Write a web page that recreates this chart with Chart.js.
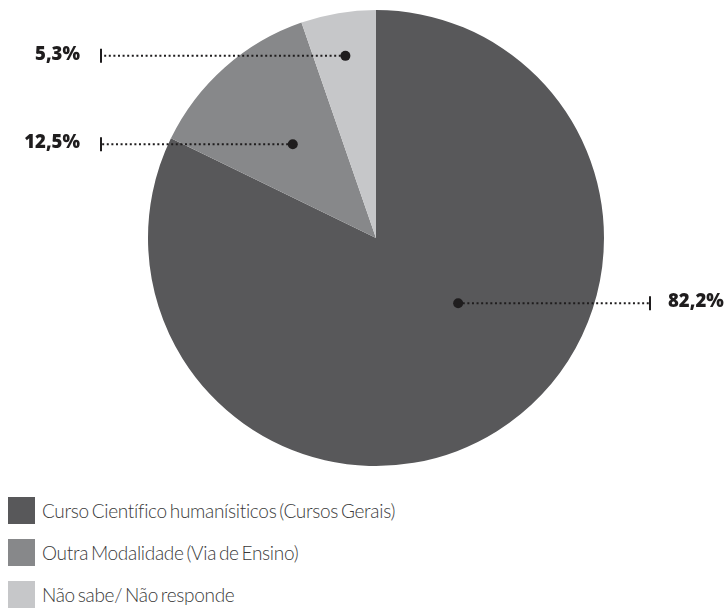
<!DOCTYPE html>
<html>
<head>
<meta charset="utf-8">
<script src="https://cdn.jsdelivr.net/npm/chart.js@4"></script>
<style>
  body { margin: 0; background: #fff; width: 728px; height: 608px; overflow: hidden; }
  #wrap { position: relative; width: 728px; height: 480px; }
  #legend { position: absolute; left: 8px; top: 497px; font-family: Lato, sans-serif; font-weight: 300; font-size: 19px; letter-spacing: -0.3px; word-spacing: -2px; color: #3a3a3a; }
  .item { display: flex; align-items: center; height: 27px; margin-bottom: 15px; }
  .box { width: 27px; height: 27px; margin-right: 7px; }
</style>
</head>
<body>
<div id="wrap"><canvas id="chart"></canvas></div>
<div id="legend"></div>
<script>
// Dados
const categorias = ['Curso Científico humanísiticos (Cursos Gerais)', 'Outra Modalidade (Via de Ensino)', 'Não sabe/ Não responde'];
const valores = [82.2, 12.5, 5.3];
const rotulos = ['82,2%', '12,5%', '5,3%'];
const cores = ['#58585a', '#87888a', '#c6c7c9'];

// posição do ponto dentro de cada fatia (fração do ângulo, fração do raio) e lado do rótulo
const ancoras = [
    { ang: 0.434, rad: 0.46, lado: 'right' },
    { ang: 0.5, rad: 0.55, lado: 'left' },
    { ang: 0.5, rad: 0.81, lado: 'left' }
];

// Plugin para desenhar os rótulos com linha pontilhada
const rotulosPlugin = {
    id: 'rotulos',
    afterDraw(chart) {
        const ctx = chart.ctx;
        const arcs = chart.getDatasetMeta(0).data;
        arcs.forEach((arc, i) => {
            const { x, y, startAngle, endAngle, outerRadius } = arc.getProps(['x', 'y', 'startAngle', 'endAngle', 'outerRadius'], true);
            const a = startAngle + (endAngle - startAngle) * ancoras[i].ang;
            const r = outerRadius * ancoras[i].rad;
            const px = x + Math.cos(a) * r;
            const py = y + Math.sin(a) * r;
            const direita = ancoras[i].lado === 'right';
            const fimX = direita ? x + 274 : x - 275;

            ctx.save();
            ctx.strokeStyle = '#1f1d1e';
            ctx.fillStyle = '#1f1d1e';
            // linha pontilhada
            ctx.lineWidth = 2;
            ctx.setLineDash([2, 2.6]);
            ctx.beginPath();
            ctx.moveTo(px, py);
            ctx.lineTo(fimX, py);
            ctx.stroke();
            ctx.setLineDash([]);
            // marca vertical
            ctx.beginPath();
            ctx.moveTo(fimX, py - 7);
            ctx.lineTo(fimX, py + 7);
            ctx.stroke();
            // ponto
            ctx.beginPath();
            ctx.arc(px, py, 5, 0, Math.PI * 2);
            ctx.fill();
            // texto
            ctx.font = '800 18.5px "Open Sans", sans-serif';
            ctx.textBaseline = 'middle';
            ctx.textAlign = direita ? 'left' : 'right';
            ctx.fillText(rotulos[i], direita ? fimX + 18 : fimX - 21, py - 1);
            ctx.restore();
        });
    }
};

function initChart() {
    const ctx = document.getElementById('chart').getContext('2d');
    new Chart(ctx, {
        type: 'pie',
        data: {
            labels: categorias,
            datasets: [{
                data: valores,
                backgroundColor: cores,
                borderWidth: 0
            }]
        },
        options: {
            responsive: true,
            maintainAspectRatio: false,
            animation: false,
            layout: { padding: { top: 10, bottom: 14, left: 24, right: 0 } },
            plugins: {
                legend: { display: false },
                tooltip: { enabled: false }
            }
        },
        plugins: [rotulosPlugin]
    });
}

function initLegend() {
    const legend = document.getElementById('legend');
    categorias.forEach((c, i) => {
        const item = document.createElement('div');
        item.className = 'item';
        item.innerHTML = '<span class="box" style="background:' + cores[i] + '"></span><span>' + c + '</span>';
        legend.appendChild(item);
    });
}

initChart();
initLegend();
</script>
</body>
</html>
